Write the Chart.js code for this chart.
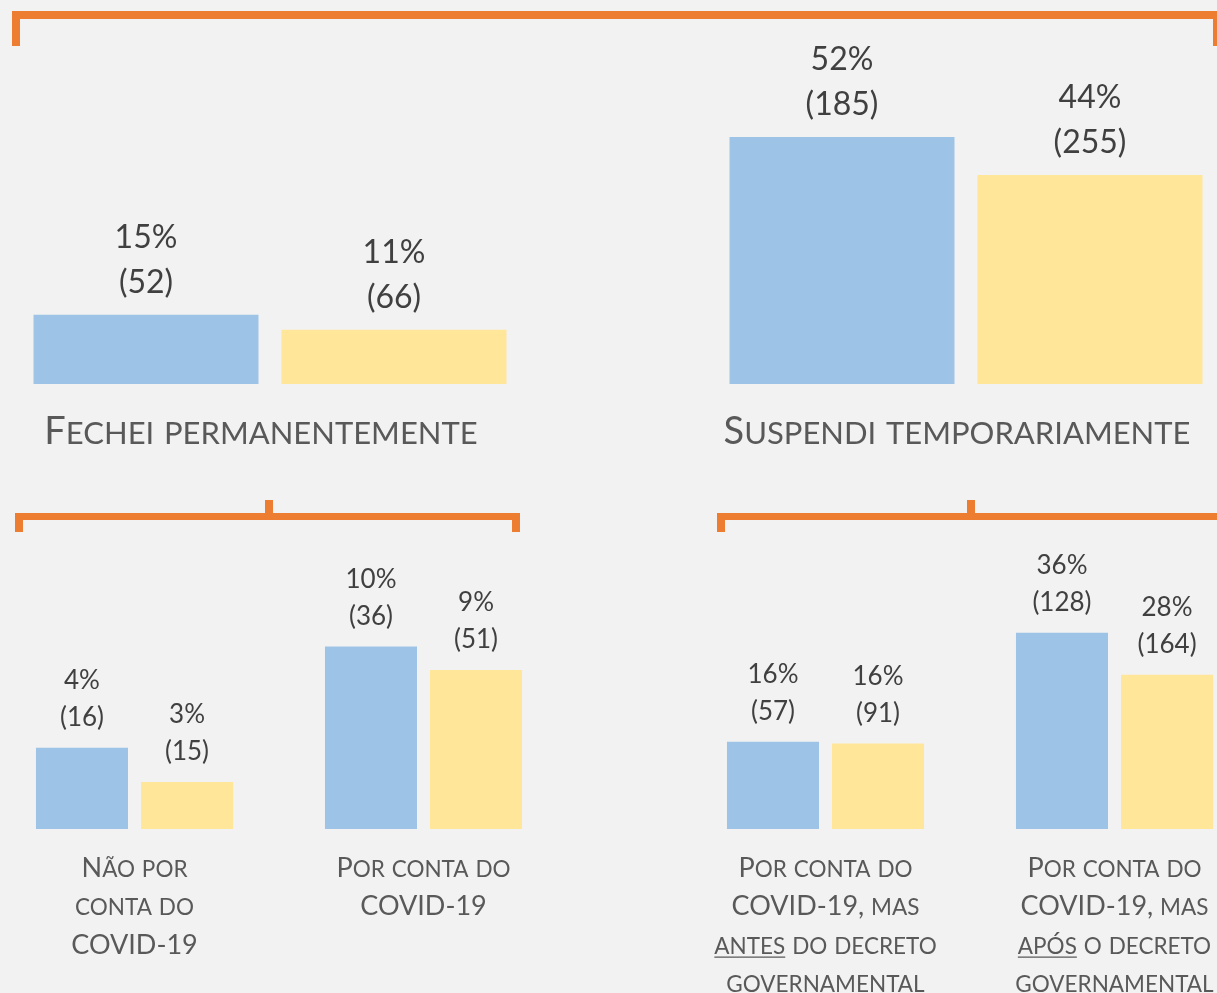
<!DOCTYPE html>
<html>
<head>
<meta charset="utf-8">
<script src="https://cdn.jsdelivr.net/npm/chart.js@4.4.0/dist/chart.umd.min.js"></script>
<style>
html, body { margin:0; padding:0; background:#f2f2f2; width:1217px; height:993px; overflow:hidden; }
body { position:relative; }
.box { position:absolute; }
.br { position:absolute; box-sizing:border-box; border:8px solid #ed7d31; border-bottom:none; }
.tick { position:absolute; background:#ed7d31; width:8px; }
</style>
</head>
<body>
<div class="br" style="left:12px;top:11px;width:1209px;height:35px;"></div>
<div class="br" style="left:15px;top:513px;width:505px;height:19px;border-width:7px 8px 0 8px;"></div>
<div class="tick" style="left:265px;top:500px;height:14px;"></div>
<div class="br" style="left:717px;top:513px;width:508px;height:19px;border-width:7px 8px 0 8px;"></div>
<div class="tick" style="left:967px;top:500px;height:14px;"></div>

<div class="box" style="left:22px;top:30px;width:496px;height:440px;"><canvas id="c1"></canvas></div>
<div class="box" style="left:718px;top:30px;width:496px;height:440px;"><canvas id="c2"></canvas></div>
<div class="box" style="left:-10px;top:540px;width:578px;height:453px;"><canvas id="c3"></canvas></div>
<div class="box" style="left:681px;top:540px;width:578px;height:453px;"><canvas id="c4"></canvas></div>

<script>
// dados (percentual de cada grupo)
var topCats = [["Fechei permanentemente"], ["Suspendi temporariamente"]];
var topBlue = [14.6, 52.0];
var topYellow = [11.4, 44.0];
var topBluePct = ["15%", "52%"];
var topYellowPct = ["11%", "44%"];
var topBlueN = [52, 185];
var topYellowN = [66, 255];

var fechCats = [["Não por", "conta do", "COVID-19"], ["Por conta do", "COVID-19"]];
var fechBlue = [4.5, 10.1];
var fechYellow = [2.6, 8.8];
var fechBluePct = ["4%", "10%"];
var fechYellowPct = ["3%", "9%"];
var fechBlueN = [16, 36];
var fechYellowN = [15, 51];

var suspCats = [["Por conta do", "COVID-19, mas", "_antes_ do decreto", "governamental"],
                ["Por conta do", "COVID-19, mas", "_após_ o decreto", "governamental"]];
var suspBlue = [16.0, 36.0];
var suspYellow = [15.7, 28.3];
var suspBluePct = ["16%", "36%"];
var suspYellowPct = ["16%", "28%"];
var suspBlueN = [57, 128];
var suspYellowN = [91, 164];

var AZUL = "#9dc3e6";
var AMARELO = "#ffe699";
var FONTE = "Lato, 'Open Sans', sans-serif";

// versaletes desenhados a mao
function versalete(ctx, texto, cx, cy, big, small, cor) {
  var runs = [];
  var sub = false;
  for (var ch of texto) {
    if (ch === "_") { sub = !sub; continue; }
    var peq = ch !== ch.toUpperCase();
    var s = peq ? ch.toUpperCase() : ch;
    var tam = peq ? small : big;
    var ult = runs[runs.length - 1];
    if (ult && ult.tam === tam && ult.sub === sub) ult.t += s;
    else runs.push({ t: s, tam: tam, sub: sub });
  }
  var total = 0;
  runs.forEach(function(r) {
    ctx.font = r.tam + "px " + FONTE;
    r.w = ctx.measureText(r.t).width;
    total += r.w;
  });
  var x = cx - total / 2;
  var base = cy + big * 0.36;
  ctx.fillStyle = cor;
  ctx.strokeStyle = cor;
  ctx.textAlign = "left";
  ctx.textBaseline = "alphabetic";
  runs.forEach(function(r) {
    ctx.font = r.tam + "px " + FONTE;
    ctx.fillText(r.t, x, base);
    if (r.sub) {
      ctx.lineWidth = 1.2;
      ctx.beginPath();
      ctx.moveTo(x, base + 3.5);
      ctx.lineTo(x + r.w, base + 3.5);
      ctx.stroke();
    }
    x += r.w;
  });
}

var rotulos = {
  id: "rotulos",
  afterDraw: function(chart, args, o) {
    var ctx = chart.ctx;
    ctx.save();
    // valores acima das barras
    chart.data.datasets.forEach(function(ds, di) {
      chart.getDatasetMeta(di).data.forEach(function(bar, i) {
        ctx.font = o.numSize + "px " + FONTE;
        ctx.fillStyle = "#404040";
        ctx.textAlign = "center";
        ctx.textBaseline = "middle";
        ctx.fillText("(" + ds.counts[i] + ")", bar.x, bar.y - o.gap);
        ctx.fillText(ds.pcts[i], bar.x, bar.y - o.gap - o.numLine);
      });
    });
    // categorias
    var xs = chart.scales.x;
    chart.data.labels.forEach(function(linhas, i) {
      var cx = xs.getPixelForValue(i) + o.catShift;
      linhas.forEach(function(l, k) {
        versalete(ctx, l, cx, chart.chartArea.bottom + o.catOffset + k * o.catLine, o.big, o.small, "#595959");
      });
    });
    ctx.restore();
  }
};

function grafico(id, cats, azul, amarelo, pA, pB, nA, nB, opts) {
  return new Chart(document.getElementById(id), {
    type: "bar",
    data: {
      labels: cats,
      datasets: [
        { label: "azul", data: azul, backgroundColor: AZUL, pcts: pA, counts: nA,
          categoryPercentage: opts.catPct, barPercentage: opts.barPct },
        { label: "amarelo", data: amarelo, backgroundColor: AMARELO, pcts: pB, counts: nB,
          categoryPercentage: opts.catPct, barPercentage: opts.barPct }
      ]
    },
    options: {
      responsive: true,
      maintainAspectRatio: false,
      animation: false,
      layout: { padding: { bottom: opts.padBottom } },
      scales: {
        x: { display: false },
        y: { display: false, min: 0, max: opts.max }
      },
      plugins: {
        legend: { display: false },
        tooltip: { enabled: false },
        rotulos: opts.rot
      }
    },
    plugins: [rotulos]
  });
}

var rotTopo = { numSize: 32, numLine: 45, gap: 32, catOffset: 46, catLine: 0, catShift: -9, big: 38, small: 31 };
var rotBaixo = { numSize: 26, numLine: 37, gap: 30, catOffset: 38, catLine: 38.5, catShift: 0, big: 27, small: 22.5 };

grafico("c1", [topCats[0]], [topBlue[0]], [topYellow[0]], [topBluePct[0]], [topYellowPct[0]], [topBlueN[0]], [topYellowN[0]],
  { catPct: 1, barPct: 0.907, padBottom: 86, max: 74.5, rot: rotTopo });
grafico("c2", [topCats[1]], [topBlue[1]], [topYellow[1]], [topBluePct[1]], [topYellowPct[1]], [topBlueN[1]], [topYellowN[1]],
  { catPct: 1, barPct: 0.907, padBottom: 86, max: 74.5, rot: rotTopo });
grafico("c3", fechCats, fechBlue, fechYellow, fechBluePct, fechYellowPct, fechBlueN, fechYellowN,
  { catPct: 0.727, barPct: 0.876, padBottom: 164, max: 16, rot: rotBaixo });
grafico("c4", suspCats, suspBlue, suspYellow, suspBluePct, suspYellowPct, suspBlueN, suspYellowN,
  { catPct: 0.727, barPct: 0.876, padBottom: 164, max: 53, rot: rotBaixo });
</script>
</body>
</html>
